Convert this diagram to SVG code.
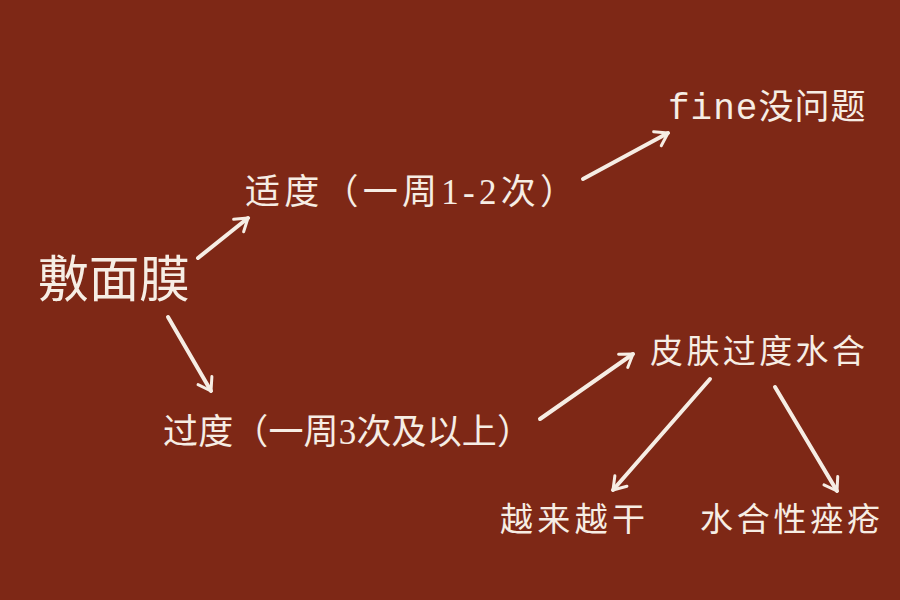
<svg xmlns="http://www.w3.org/2000/svg" width="900" height="600" viewBox="0 0 900 600">
<defs>
<style>
.t{fill:#F6EDE4;font-family:"Liberation Serif","Noto Sans CJK SC",serif;}
.m{font-family:"Liberation Mono","Noto Sans CJK SC",monospace;}
.c line{stroke:#F6EDE4;stroke-width:4;stroke-linecap:round;marker-end:url(#ah);}
</style>
<marker id="ah" viewBox="0 0 20 20" refX="14" refY="10" markerWidth="5" markerHeight="5" markerUnits="strokeWidth" orient="auto">
<polyline points="2,2 14,10 2,18" fill="none" stroke="#F6EDE4" stroke-width="3" stroke-linecap="round" stroke-linejoin="round"/>
</marker>
</defs>
<rect width="900" height="600" fill="#7E2816"/>
<g id="root"><text class="t" x="38" y="297" font-size="50" textLength="152" lengthAdjust="spacingAndGlyphs">敷面膜</text></g>
<g id="moderate"><text class="t" x="245" y="204" font-size="35" textLength="330" lengthAdjust="spacing">适度（一周1-2次）</text></g>
<g id="fine"><text class="t" x="668" y="119" font-size="35" letter-spacing="1"><tspan class="m" font-size="36">fine</tspan><tspan>没问题</tspan></text></g>
<g id="excess"><text class="t" x="163" y="444" font-size="35" textLength="369" lengthAdjust="spacing">过度（一周3次及以上）</text></g>
<g id="overhydrate"><text class="t" x="650" y="363" font-size="33" textLength="215" lengthAdjust="spacing">皮肤过度水合</text></g>
<g id="drier"><text class="t" x="500" y="531" font-size="33" textLength="145" lengthAdjust="spacing">越来越干</text></g>
<g id="acne"><text class="t" x="700" y="531" font-size="33" textLength="180" lengthAdjust="spacing">水合性痤疮</text></g>
<g id="connectors" class="c">
<line x1="198" y1="258" x2="248" y2="218"/>
<line x1="583" y1="179" x2="668" y2="133"/>
<line x1="168" y1="317" x2="211" y2="391"/>
<line x1="540" y1="419" x2="633" y2="354"/>
<line x1="710" y1="379" x2="613" y2="490"/>
<line x1="775" y1="387" x2="837" y2="491"/>
</g>
</svg>
